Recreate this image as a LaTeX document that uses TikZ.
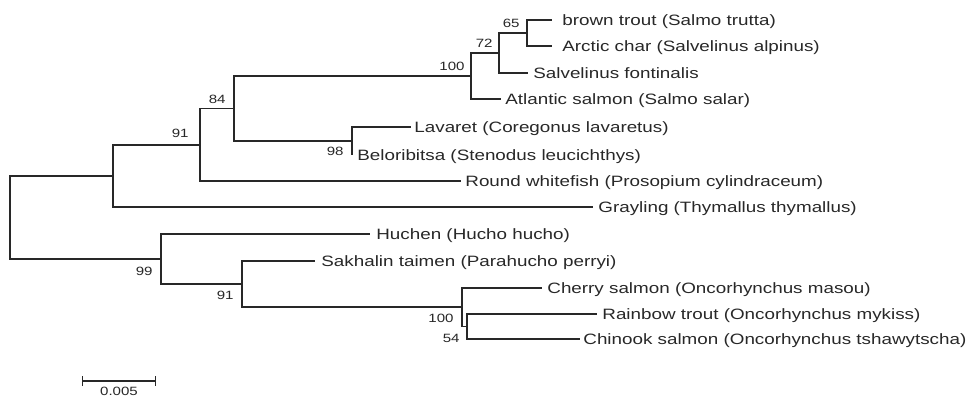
\documentclass[tikz,border=0pt]{standalone}
\usepackage{fontspec}
\setmainfont{Liberation Sans}[FakeStretch=1.255]
\usetikzlibrary{arrows.meta}
\definecolor{ink}{RGB}{40,40,40}
\newcommand{\leaffont}{\fontsize{7.5}{9}\selectfont}
\newcommand{\bootfont}{\fontsize{6}{7}\selectfont}
\begin{document}
\begin{tikzpicture}[x=0.5pt,y=-0.5pt,
  branch/.style={draw=ink, line width=0.6pt},
  leaf/.style={anchor=mid west, inner ysep=0pt, inner xsep=2.5pt, font=\leaffont, text=ink},
  boot/.style={anchor=east, inner sep=0pt, font=\bootfont, text=ink}]
\useasboundingbox[fill=white] (0,0) rectangle (972,396);
% internal nodes
\coordinate (n65) at (527,33);
\coordinate (n72) at (499,53);
\coordinate (n100a) at (471,76);
\coordinate (n98) at (352,141);
\coordinate (n84) at (234,108.5);
\coordinate (n91a) at (200,145);
\coordinate (nG) at (113,176);
\coordinate (root) at (10,217.5);
\coordinate (n54) at (467,326.5);
\coordinate (n100b) at (462,307);
\coordinate (n91b) at (242,284);
\coordinate (n99) at (161,259);
% leaves
\node[leaf, inner xsep=5pt] (bt) at (552,20) {brown trout (Salmo trutta)};
\node[leaf, inner xsep=5pt] (ac) at (552,46) {Arctic char (Salvelinus alpinus)};
\node[leaf] (sf) at (528,73) {Salvelinus fontinalis};
\node[leaf, inner xsep=2pt] (as) at (501,99) {Atlantic salmon (Salmo salar)};
\node[leaf, inner xsep=1.5pt] (lv) at (411,127) {Lavaret (Coregonus lavaretus)};
\node[leaf, inner xsep=2.5pt] (bl) at (352,155) {Beloribitsa (Stenodus leucichthys)};
\node[leaf, inner xsep=2pt] (rw) at (461,181) {Round whitefish (Prosopium cylindraceum)};
\node[leaf] (gr) at (593,207) {Grayling (Thymallus thymallus)};
\node[leaf, inner xsep=3pt] (hu) at (370,234) {Huchen (Hucho hucho)};
\node[leaf, inner xsep=3pt] (sk) at (315,261) {Sakhalin taimen (Parahucho perryi)};
\node[leaf] (ch) at (542,288) {Cherry salmon (Oncorhynchus masou)};
\node[leaf] (rt) at (597,314) {Rainbow trout (Oncorhynchus mykiss)};
\node[leaf, inner xsep=1.5pt] (ck) at (580,339) {Chinook salmon (Oncorhynchus tshawytscha)};
% branches
\draw[branch] (n65) |- (bt.mid west);
\draw[branch] (n65) |- (ac.mid west);
\draw[branch] (n72) |- (n65);
\draw[branch] (n72) |- (sf.mid west);
\draw[branch] (n100a) |- (n72);
\draw[branch] (n100a) |- (as.mid west);
\draw[branch] (n98) |- (lv.mid west);
\draw[branch] (n98) |- (bl.mid west);
\draw[branch] (n84) |- (n100a);
\draw[branch] (n84) |- (n98);
\draw[branch] (n91a) |- (n84);
\draw[branch] (n91a) |- (rw.mid west);
\draw[branch] (nG) |- (n91a);
\draw[branch] (nG) |- (gr.mid west);
\draw[branch] (root) |- (nG);
\draw[branch] (root) |- (n99);
\draw[branch] (n99) |- (hu.mid west);
\draw[branch] (n99) |- (n91b);
\draw[branch] (n91b) |- (sk.mid west);
\draw[branch] (n91b) |- (n100b);
\draw[branch] (n100b) |- (ch.mid west);
\draw[branch] (n100b) |- (n54);
\draw[branch] (n54) |- (rt.mid west);
\draw[branch] (n54) |- (ck.mid west);
% bootstrap values
\node[boot] (b65) at (520,23) {65};
\node[boot] (b72) at (493,43) {72};
\node[boot] (b100a) at (465,66) {100};
\node[boot] (b84) at (226,99) {84};
\node[boot] (b98) at (344,151) {98};
\node[boot] (b91a) at (189,133) {91};
\node[boot] (b99) at (153,271) {99};
\node[boot] (b91b) at (234,295) {91};
\node[boot] (b100b) at (454,318) {100};
\node[boot] (b54) at (460,338) {54};
% scale bar
\coordinate (sb1) at (82,381);
\coordinate (sb2) at (156,381);
\draw[branch, {Bar[width=5pt]}-{Bar[width=5pt]}] (sb1) -- (sb2);
\node[boot, anchor=north] (sbl) at (119,386.5) {0.005};
\end{tikzpicture}
\end{document}
